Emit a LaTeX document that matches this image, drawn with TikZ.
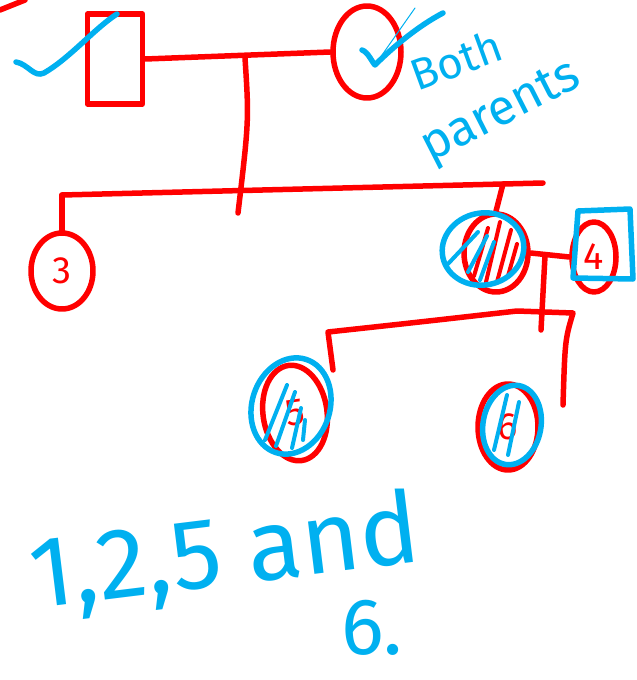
\documentclass[tikz,border=0pt]{standalone}
\usepackage{fontspec}
\setmainfont{Fira Sans}
\usetikzlibrary{shapes.geometric}
\definecolor{pred}{RGB}{255,0,0}
\definecolor{pblue}{RGB}{0,176,240}
\begin{document}
\begin{tikzpicture}[x=1pt,y=-1pt,
  redline/.style={draw=pred,line width=5.5pt,line cap=round,line join=round},
  blueline/.style={draw=pblue,line width=5.5pt,line cap=round,line join=round},
  thinblue/.style={draw=pblue,line width=1pt,line cap=round},
  redoval/.style={ellipse,inner sep=0pt,redline,text=pred,font=\fontsize{38}{38}\selectfont},
  blueoval/.style={ellipse,inner sep=0pt,blueline},
  redbox/.style={rectangle,inner sep=0pt,redline},
  bluetext/.style={text=pblue,inner sep=0pt}]
\useasboundingbox (0,0) rectangle (637,680);

% stray red stroke at top left
\draw[redline] (0,10) -- (25,0);

% generation I
\node[redbox,minimum width=55pt,minimum height=90pt] (f1) at (115,59) {};
\node[redoval,minimum width=68pt,minimum height=92pt] (m2) at (367,52) {};
\draw[redline] (f1.east) -- (m2.west);
\coordinate (j1) at (245,58);
\coordinate (j1b) at (238,213);
\draw[redline] (j1) .. controls (249,120) .. (j1b);

% check marks
\draw[blueline] (16,62) .. controls (28,64) and (34,78) .. (44,73) .. controls (70,58) and (95,28) .. (117,14);
\draw[blueline] (362,50) .. controls (368,52) and (372,62) .. (375,65) .. controls (395,45) and (420,25) .. (443,13);
\draw[thinblue] (375,65) -- (415,8);

% Both parents
\node[bluetext,rotate=20,font=\fontsize{44}{44}\selectfont] (bp1) at (456,60) {Both};
\node[bluetext,rotate=27,font=\fontsize{50}{50}\selectfont] (bp2) at (502,114) {parents};

% generation II sibship
\coordinate (sL) at (62,195);
\coordinate (sR) at (543,183);
\draw[redline] (sL) -- (sR);
\node[redoval,minimum width=62pt,minimum height=76pt] (d3) at (62,271) {3};
\draw[redline] (sL) -- (d3.north);
\node[redoval,minimum width=64pt,minimum height=78pt] (d4) at (496,253) {};
\coordinate (sR4) at (503,184);
\draw[redline] (sR4) -- (d4.north);
% hatching of 4
\begin{scope}[line width=4pt,line cap=round]
\draw[pred] (474,276) -- (488,228);
\draw[pred] (486,282) -- (500,222);
\draw[pred] (497,282) -- (511,230);
\draw[pred] (508,276) -- (517,244);
\draw[pblue] (446,266) -- (478,232);
\draw[pblue] (468,272) -- (487,236);
\draw[pblue] (480,280) -- (494,242);
\end{scope}
\node[blueoval,minimum width=82pt,minimum height=72pt,rotate=12] (d4b) at (483,249) {};

\node[redoval,minimum width=44pt,minimum height=70pt] (h4) at (594,257) {4};
\draw[blueline] (578,211) -- (630,209) -- (633,279) -- (573,278) -- cycle;
\draw[redline] (d4.east) -- (h4.west);

% generation III
\coordinate (j2) at (545,256);
\coordinate (j2b) at (541,330);
\draw[redline] (j2) -- (j2b);
\coordinate (tL) at (328,332);
\coordinate (tM) at (517,311);
\coordinate (tR) at (573,313);
\coordinate (tRb) at (563,405);
\coordinate (tLb) at (333,370);
\draw[redline] (tLb) -- (tL) .. controls (420,322) .. (tM) -- (tR) .. controls (565,340) .. (tRb);

\node[redoval,minimum width=64pt,minimum height=96pt,rotate=8] (c5) at (295,413) {5};
\begin{scope}[line width=4pt,line cap=round]
\draw[pblue] (265,440) -- (287,385);
\draw[pblue] (276,446) -- (295,392);
\draw[pblue] (292,448) -- (301,408);
\draw[pblue] (303,440) -- (305,420);
\end{scope}
\node[blueoval,minimum width=78pt,minimum height=98pt,rotate=-18] (c5b) at (291,406) {};

\node[redoval,minimum width=60pt,minimum height=86pt] (c6) at (508,427) {6};
\begin{scope}[line width=4pt,line cap=round]
\draw[pblue] (494,450) -- (507,395);
\draw[pblue] (508,455) -- (519,402);
\end{scope}
\node[blueoval,minimum width=58pt,minimum height=80pt,rotate=-10] (c6b) at (512,425) {};

% answer
\node[bluetext,rotate=7,font=\fontsize{100}{100}\selectfont] (ans) at (225,556) {1,2,5 and};
\node[bluetext,font=\fontsize{80}{80}\selectfont] (ans6) at (372,628) {6.};
\end{tikzpicture}
\end{document}
